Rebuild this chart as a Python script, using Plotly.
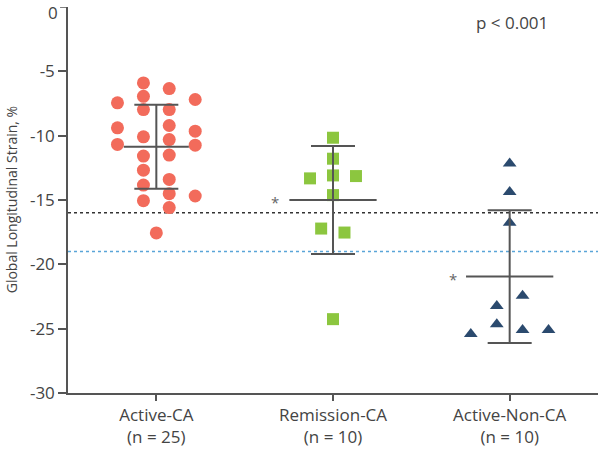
import plotly.graph_objects as go

# groups on the x axis
groups = ["Active-CA", "Remission-CA", "Active-Non-CA"]
group_labels = ["Active-CA<br>(n = 25)", "Remission-CA<br>(n = 10)", "Active-Non-CA<br>(n = 10)"]

# y ticks (figure uses plain hyphens); the top "0" is added as an annotation
y_ticks = [-5, -10, -15, -20, -25, -30]
y_tick_text = ["-5", "-10", "-15", "-20", "-25", "-30"]

# global longitudinal strain values (%)
active_ca = [-7.45, -9.39, -10.68,
             -5.90, -6.94, -7.97, -10.09, -11.59, -12.68, -13.84, -15.05,
             -6.34, -7.97, -9.21, -10.30, -11.51, -13.40, -14.51, -15.59,
             -7.19, -9.65, -10.74, -14.69,
             -17.56]
remission_ca = [-10.16, -11.79, -13.09, -14.62, -24.26, -13.32, -13.14, -17.22, -17.53]
active_non_ca = [-12.16, -14.38, -16.76, -22.45, -23.23, -24.65, -25.11, -25.11, -25.42]

# horizontal scatter of the dots around each group centre
active_ca_dx = [-0.22] * 3 + [-0.073] * 8 + [0.073] * 8 + [0.22] * 4 + [0.0]
remission_ca_dx = [0, 0, 0, 0, 0, -0.13, 0.13, -0.067, 0.065]
active_non_ca_dx = [0, 0, 0, 0.073, -0.073, -0.073, 0.073, 0.22, -0.22]

# mean and SD per group
means = [-10.86, -15.0, -20.95]
sds = [3.26, 4.19, 5.16]

# reference lines
ref_black = -16
ref_blue = -19

colors = ["#f26b5b", "#8cc63f", "#2b4a6e"]
symbols = ["circle", "square", "triangle-up"]
sizes = [13, 12, 12]
bar_color = "#555555"

fig = go.Figure()

all_vals = [active_ca, remission_ca, active_non_ca]
all_dx = [active_ca_dx, remission_ca_dx, active_non_ca_dx]

# reference lines first so they sit under the markers
for yv, c in [(ref_black, "#333333"), (ref_blue, "#5aa5d8")]:
    fig.add_shape(type="line", xref="paper", yref="y", x0=0, x1=1, y0=yv, y1=yv,
                  line=dict(color=c, width=1.5, dash="dot"), layer="below")

for i, (vals, dx) in enumerate(zip(all_vals, all_dx)):
    fig.add_trace(go.Scatter(
        x=[i + d for d in dx], y=vals, mode="markers",
        marker=dict(color=colors[i], symbol=symbols[i], size=sizes[i],
                    line=dict(width=0)),
        showlegend=False, hoverinfo="y"))

# mean lines
half = [0.184, 0.247, 0.247]
mx, my = [], []
for i, m in enumerate(means):
    mx += [i - half[i], i + half[i], None]
    my += [m, m, None]
fig.add_trace(go.Scatter(x=mx, y=my, mode="lines",
                         line=dict(color=bar_color, width=2), showlegend=False,
                         hoverinfo="skip"))

# SD whiskers
fig.add_trace(go.Scatter(
    x=[0, 1, 2], y=means, mode="markers", marker=dict(size=1, opacity=0),
    error_y=dict(type="data", array=sds, color=bar_color, thickness=2, width=22),
    showlegend=False, hoverinfo="skip"))

# significance stars
for xs, ys in [(0.672, means[1]), (1.677, means[2])]:
    fig.add_annotation(x=xs, y=ys, text="*", showarrow=False,
                       font=dict(size=15, color="#666666"), yshift=-2)

fig.add_annotation(x=0.838, y=0.959, xref="paper", yref="paper", text="p < 0.001",
                   showarrow=False, xanchor="center", yanchor="middle",
                   font=dict(size=17, color="#444444"))

# top tick label (plotly drops it at the very edge)
fig.add_annotation(x=0, y=0, xref="paper", yref="y", text="0", showarrow=False,
                   xanchor="right", yanchor="top", xshift=-9, yshift=7,
                   borderpad=0, font=dict(size=17, color="#444444"))

# y axis title
fig.add_annotation(x=-0.107, y=0.5, xref="paper", yref="paper",
                   text="Global Longitudinal Strain, %", textangle=-90,
                   showarrow=False, xanchor="center", yanchor="middle",
                   font=dict(size=14, color="#444444"))

fig.update_layout(
    width=600, height=449,
    margin=dict(l=68, r=2, t=7, b=56),
    plot_bgcolor="white", paper_bgcolor="white",
    font=dict(family="Open Sans", size=17, color="#444444"),
    xaxis=dict(range=[-0.5, 2.5], tickvals=[0, 1, 2], ticktext=group_labels,
               showgrid=False, zeroline=False, showline=True, linecolor="#555555",
               linewidth=1.5, ticks="outside", ticklen=6, tickcolor="#555555",
               tickwidth=1.5, automargin=False, tickfont=dict(size=17)),
    yaxis=dict(range=[-30, 0], tickvals=y_ticks, ticktext=y_tick_text,
               showgrid=False, zeroline=False,
               showline=True, linecolor="#555555", linewidth=1.5, ticks="outside",
               ticklen=8, tickcolor="#555555", tickwidth=1.5, automargin=False,
               tickfont=dict(size=17)),
)
# tick mark at 0 to go with the annotation label
fig.add_shape(type="line", xref="paper", yref="y", x0=-0.015, x1=0, y0=0, y1=0,
              line=dict(color="#555555", width=1.5))

# page has a default body margin; remove it so the figure fills the window
fig.write_html("out.html", config={"displayModeBar": False},
               post_script="document.body.style.margin='0';")
